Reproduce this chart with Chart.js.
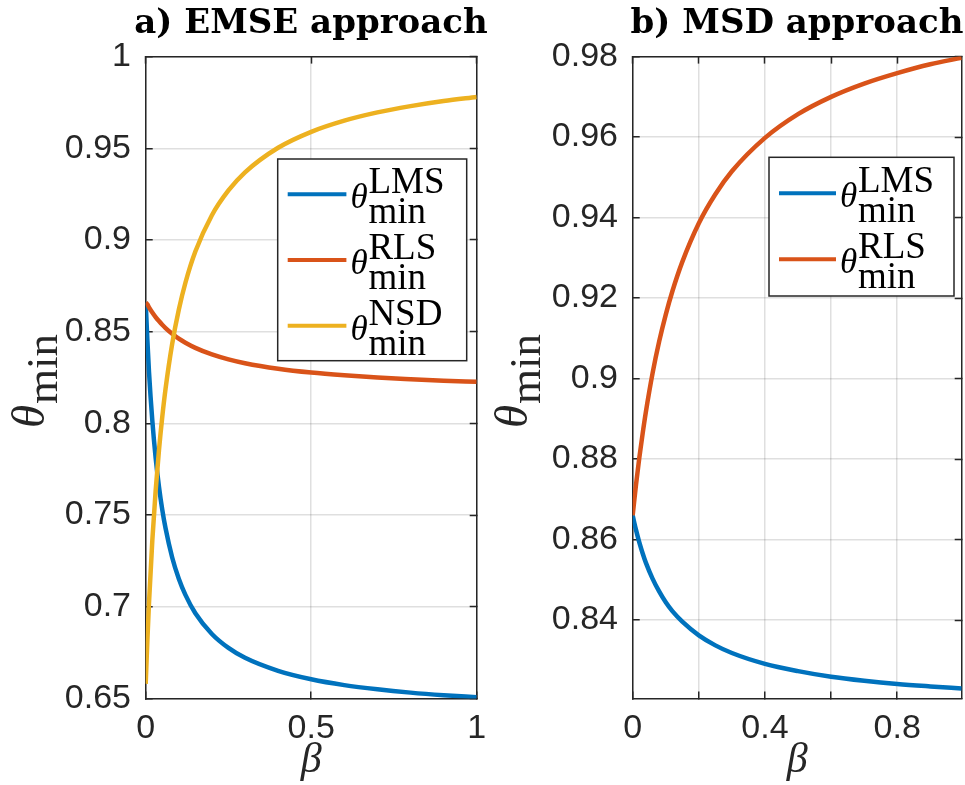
<!DOCTYPE html>
<html><head><meta charset="utf-8">
<script src="https://cdn.jsdelivr.net/npm/chart.js@4/dist/chart.umd.min.js"></script>
<style>
html,body{margin:0;padding:0;background:#fff;overflow:hidden;}
#wrap{position:relative;width:965px;height:785px;overflow:hidden;background:#fff;}
canvas{position:absolute;top:0;}
#cA{left:0;} #cB{left:477px;}
</style></head><body>
<div id="wrap"><canvas id="cA" width="622" height="785"></canvas><canvas id="cB" width="640" height="785"></canvas></div>
<script>
// ---- data ----
const betaA = [0,0.005,0.01,0.02,0.03,0.04,0.05,0.06,0.08,0.1,0.12,0.15,0.2,0.25,0.3,0.4,0.5,0.6,0.7,0.8,0.9,1];
const lmsA  = [0.866,0.8455,0.828,0.8015,0.7813,0.7656,0.753,0.7428,0.7269,0.7153,0.7065,0.6965,0.6852,0.6776,0.6722,0.6651,0.6605,0.6573,0.655,0.6532,0.6518,0.6507];
const rlsA  = [0.866,0.8649,0.8633,0.8605,0.858,0.8558,0.8538,0.852,0.8489,0.8462,0.844,0.8412,0.8376,0.8349,0.8328,0.8298,0.8277,0.8262,0.825,0.8241,0.8233,0.8227];
const nsdA  = [0.658,0.6816,0.7022,0.7362,0.7632,0.7852,0.8035,0.8189,0.8434,0.862,0.8767,0.8937,0.9135,0.927,0.9369,0.9503,0.959,0.9651,0.9696,0.973,0.9758,0.978];

const betaB = [0,0.005,0.01,0.02,0.03,0.04,0.06,0.08,0.1,0.12,0.15,0.2,0.25,0.3,0.4,0.5,0.6,0.7,0.8,0.9,0.995];
const lmsB  = [0.866,0.8641,0.8624,0.8593,0.8566,0.8542,0.8503,0.8471,0.8444,0.8422,0.8396,0.8362,0.8337,0.8318,0.8291,0.8273,0.8259,0.8249,0.8241,0.8235,0.823];
const rlsB  = [0.866,0.8699,0.8736,0.8803,0.8863,0.8918,0.9013,0.9092,0.9159,0.9217,0.929,0.9386,0.9458,0.9515,0.9598,0.9657,0.97,0.9733,0.9759,0.9781,0.9797];

const xTicksA = [0,0.5,1];
const xLabelsA = ['0','0.5','1'];
const yTicksA = [0.65,0.7,0.75,0.8,0.85,0.9,0.95,1];
const yLabelsA = ['0.65','0.7','0.75','0.8','0.85','0.9','0.95','1'];
const xTicksB = [0,0.2,0.4,0.6,0.8];
const xLabelsB = ['0','','0.4','','0.8'];
const yTicksB = [0.84,0.86,0.88,0.9,0.92,0.94,0.96,0.98];
const yLabelsB = ['0.84','0.86','0.88','0.9','0.92','0.94','0.96','0.98'];

const titleA = 'a) EMSE approach';
const titleB = 'b) MSD approach';
const namesA = ['LMS','RLS','NSD'];
const namesB = ['LMS','RLS'];
const xTitle = 'β';

// ---- styling ----
const AX = '#262626';
const GRID = 'rgba(38,38,38,0.15)';
const COLORS = ['#0072BD','#D95319','#EDB120'];
const tickFont = {family:'"Liberation Sans", Arial, sans-serif', size:34};

const pts = (xs, ys) => xs.map((x,i)=>({x:x, y:ys[i]}));

const mathPlugin = {
  id:'mathLabels',
  afterDraw(chart, args, o){
    const ctx = chart.ctx;
    ctx.save();
    ctx.textAlign='left'; ctx.textBaseline='alphabetic';
    // y-axis label theta_min
    ctx.save();
    ctx.fillStyle = AX;
    ctx.translate(o.yl.x, o.yl.y);
    ctx.rotate(-Math.PI/2);
    ctx.font = 'italic 47px "Liberation Serif", serif';
    ctx.fillText('θ',0,0);
    const w = ctx.measureText('θ').width;
    ctx.font = '45px "Liberation Serif", serif';
    ctx.fillText('min', w+1, 13);
    ctx.restore();
    // legend
    const L = o.legend;
    ctx.fillStyle='#fff'; ctx.fillRect(L.x,L.y,L.w,L.h);
    ctx.strokeStyle=AX; ctx.lineWidth=1.5; ctx.strokeRect(L.x,L.y,L.w,L.h);
    o.names.forEach((nm,i)=>{
      const ly = L.y + L.first + i*L.step;
      ctx.strokeStyle = COLORS[i]; ctx.lineWidth = 4; ctx.lineCap='butt';
      ctx.beginPath(); ctx.moveTo(L.x+10, ly); ctx.lineTo(L.x+10+L.line, ly); ctx.stroke();
      const tx = L.x+10+L.line+4;
      ctx.fillStyle='#000';
      ctx.font='italic 35px "Liberation Serif", serif';
      ctx.fillText('θ', tx, ly+14);
      ctx.font='37px "Liberation Serif", serif';
      ctx.fillText(nm, tx+18, ly-1);
      ctx.fillText('min', tx+18, ly+29);
    });
    ctx.restore();
  }
};

function makeChart(id, o){
  const setTicks = vals => s => { s.ticks = vals.map(v=>({value:v})); };
  const datasets = o.series.map((ys,i)=>({
    label: o.names[i],
    data: pts(o.beta, ys),
    borderColor: COLORS[i],
    borderWidth: 4.5,
    pointRadius: 0,
    fill: false,
    cubicInterpolationMode: 'monotone',
    order: o.series.length - i,
    xAxisID:'x', yAxisID:'y'
  }));
  const border = {display:true, color:AX, width:1.5};
  return new Chart(document.getElementById(id), {
    type:'line',
    data:{datasets},
    plugins:[mathPlugin],
    options:{
      responsive:false, animation:false, events:[],
      layout:{padding:0},
      plugins:{
        legend:{display:false}, tooltip:{enabled:false},
        title:{display:true, text:o.title, fullSize:true, color:'#000',
          font:{family:'"DejaVu Serif", serif', weight:'bold', size:34, lineHeight:1.2},
          padding:{top:3.6, bottom:12.2}},
        mathLabels:{names:o.names, legend:o.legend, yl:o.yl}
      },
      scales:{
        x:{type:'linear', position:'bottom', min:o.xmin, max:o.xmax,
          afterBuildTicks:setTicks(o.xTicks),
          afterFit:s=>{s.height=86.5; s.paddingLeft=0; s.paddingRight=0;},
          ticks:{autoSkip:false, maxRotation:0, padding:17, color:AX, font:tickFont,
            callback:(v,i)=>o.xLabels[i]},
          grid:{color:GRID, lineWidth:1.5, drawTicks:true, tickLength:-7, tickColor:AX, tickWidth:1.5},
          border,
          title:{display:true, text:xTitle, color:AX, font:{family:'"Liberation Serif", serif', style:'italic', size:42}, padding:{top:0,bottom:-1}}
        },
        x2:{type:'linear', position:'top', min:o.xmin, max:o.xmax,
          afterBuildTicks:setTicks(o.xTicks),
          afterFit:s=>{s.height=0; s.paddingLeft=0; s.paddingRight=0;},
          ticks:{display:false},
          grid:{drawOnChartArea:false, drawTicks:true, tickLength:-7, tickColor:AX, tickWidth:1.5},
          border
        },
        y:{type:'linear', position:'left', min:o.ymin, max:o.ymax,
          afterBuildTicks:setTicks(o.yTicks),
          afterFit:s=>{s.width=o.yWidth; s.paddingTop=0; s.paddingBottom=0;},
          ticks:{autoSkip:false, padding:21.7, color:AX, font:tickFont,
            callback:(v,i)=>o.yLabels[i]},
          grid:{color:GRID, lineWidth:1.5, drawTicks:true, tickLength:-7, tickColor:AX, tickWidth:1.5},
          border
        },
        y2:{type:'linear', position:'right', min:o.ymin, max:o.ymax,
          afterBuildTicks:setTicks(o.yTicks),
          afterFit:s=>{s.width=o.padRight; s.paddingTop=0; s.paddingBottom=0;},
          ticks:{display:false},
          grid:{drawOnChartArea:false, drawTicks:true, tickLength:-7, tickColor:AX, tickWidth:1.5},
          border
        }
      }
    }
  });
}

makeChart('cA', {
  beta:betaA, series:[lmsA, rlsA, nsdA], names:namesA, title:titleA,
  xmin:0, xmax:1, ymin:0.65, ymax:1,
  xTicks:xTicksA, xLabels:xLabelsA, yTicks:yTicksA, yLabels:yLabelsA,
  yWidth:145.7, padRight:145.3,
  legend:{x:277.7, y:159, w:189, h:201.7, first:35.3, step:65.7, line:58.7},
  yl:{x:44, y:428}
});
makeChart('cB', {
  beta:betaB, series:[lmsB, rlsB], names:namesB, title:titleB,
  xmin:0, xmax:0.995, ymin:0.8205, ymax:0.98,
  xTicks:xTicksB, xLabels:xLabelsB, yTicks:yTicksB, yLabels:yLabelsB,
  yWidth:155.7, padRight:155.3,
  legend:{x:292, y:157.3, w:185, h:138.7, first:36, step:66, line:57},
  yl:{x:50, y:428}
});
</script>
</body></html>
